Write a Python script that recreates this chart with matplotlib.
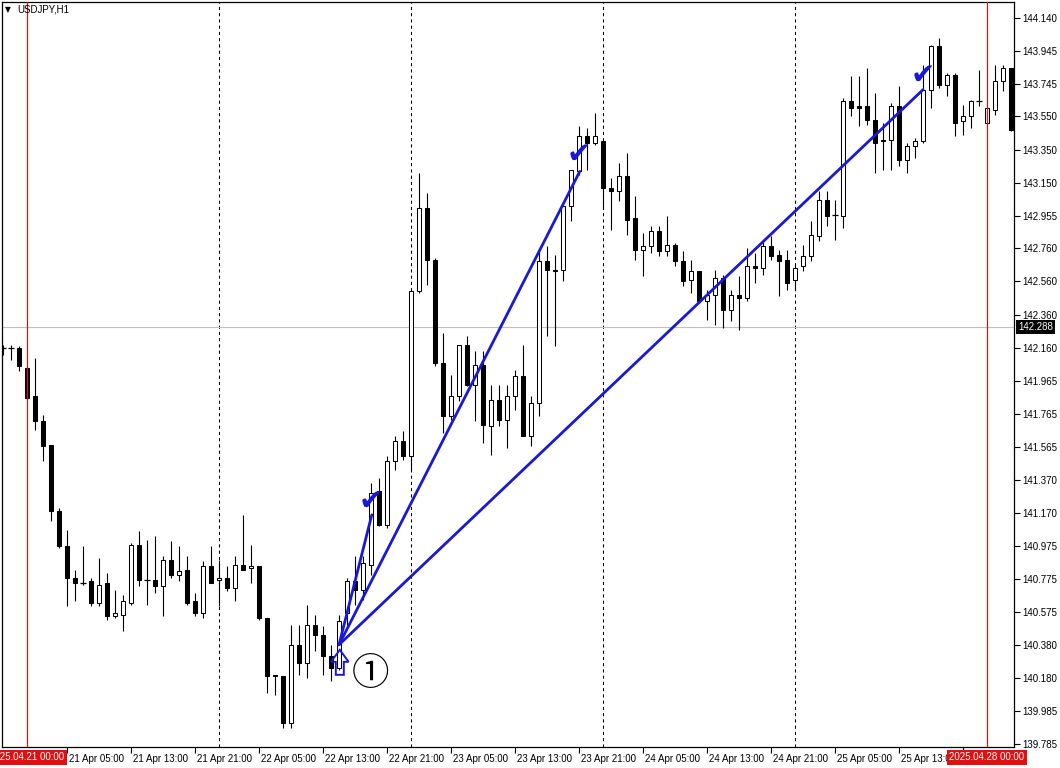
import numpy as np
import matplotlib.pyplot as plt
from matplotlib.patches import Polygon
from matplotlib.transforms import ScaledTranslation

## USDJPY H1 (bar 0 = 2025.04.21 00:00, one bar per hour)
bars = np.arange(-3, 124)

# open / high / low / close
opens = [142.16, 142.16, 142.16,
         142.04, 141.87, 141.72, 141.58, 141.18, 140.97, 140.78, 140.75, 140.76, 140.63, 140.75, 140.55,
         140.56, 140.63, 140.98, 140.77, 140.77, 140.73, 140.89, 140.80, 140.83, 140.64, 140.57, 140.85,
         140.77, 140.78, 140.72, 140.86, 140.84, 140.85, 140.54, 140.20, 140.19, 139.91, 140.38, 140.27,
         140.50, 140.44, 140.31, 140.24, 140.57, 140.76, 140.71, 140.86, 141.30, 141.10, 141.48, 141.60,
         141.51, 142.50, 143.00, 142.69, 142.07, 141.75, 141.87, 142.18, 141.94, 142.06, 141.69, 141.85,
         141.73, 141.87, 141.99, 141.63, 141.83, 142.68, 142.62, 142.63, 143.01, 143.22, 143.43, 143.39,
         143.40, 143.12, 143.10, 143.19, 142.94, 142.75, 142.77, 142.86, 142.74, 142.78, 142.68, 142.57,
         142.62, 142.44, 142.48, 142.58, 142.39, 142.48, 142.46, 142.65, 142.64, 142.77, 142.72, 142.69,
         142.57, 142.65, 142.71, 142.83, 143.05, 142.96, 142.95, 143.64, 143.61, 143.61, 143.53, 143.40,
         143.41, 143.61, 143.29, 143.37, 143.40, 143.71, 143.97, 143.74, 143.80, 143.52, 143.55, 143.64,
         143.51, 143.59, 143.76, 143.84]
highs = [142.18, 142.18, 142.17,
         142.05, 142.10, 141.76, 141.58, 141.20, 141.07, 140.83, 140.97, 140.78, 140.90, 140.81, 140.71,
         140.68, 140.99, 141.06, 141.01, 141.03, 140.91, 141.00, 140.97, 140.91, 140.69, 140.88, 140.97,
         140.89, 140.85, 140.91, 141.16, 140.98, 140.85, 140.54, 140.20, 140.19, 140.50, 140.50, 140.62,
         140.56, 140.49, 140.38, 140.56, 140.78, 140.91, 140.91, 141.35, 141.38, 141.51, 141.63, 141.66,
         142.50, 143.21, 143.09, 142.70, 142.25, 142.00, 142.18, 142.23, 142.14, 142.14, 141.94, 141.94,
         141.94, 142.03, 142.18, 141.87, 142.76, 142.77, 142.72, 143.01, 143.23, 143.49, 143.48, 143.57,
         143.40, 143.18, 143.27, 143.33, 143.07, 142.85, 142.89, 142.89, 142.95, 142.79, 142.74, 142.69,
         142.62, 142.51, 142.63, 142.60, 142.51, 142.59, 142.76, 142.73, 142.81, 142.83, 142.75, 142.75,
         142.66, 142.78, 142.92, 143.10, 143.10, 143.05, 143.66, 143.79, 143.79, 143.84, 143.69, 143.51,
         143.63, 143.73, 143.39, 143.42, 143.86, 143.98, 144.02, 143.81, 143.81, 143.62, 143.65, 143.83,
         143.61, 143.86, 143.86, 143.84]
lows = [142.12, 142.09, 142.02,
        141.85, 141.67, 141.48, 141.12, 140.96, 140.61, 140.64, 140.74, 140.61, 140.61, 140.53, 140.54,
        140.46, 140.62, 140.73, 140.62, 140.69, 140.55, 140.78, 140.76, 140.62, 140.55, 140.54, 140.75,
        140.61, 140.70, 140.64, 140.83, 140.75, 140.53, 140.09, 140.08, 139.88, 139.88, 140.20, 140.18,
        140.34, 140.20, 140.16, 140.23, 140.50, 140.62, 140.65, 140.80, 141.09, 141.08, 141.43, 141.49,
        141.43, 142.49, 142.54, 142.05, 141.65, 141.73, 141.84, 141.93, 141.72, 141.59, 141.52, 141.69,
        141.56, 141.79, 141.63, 141.57, 141.75, 142.23, 142.17, 142.56, 142.92, 143.20, 143.23, 143.38,
        143.00, 142.87, 143.04, 142.84, 142.69, 142.59, 142.73, 142.71, 142.71, 142.65, 142.53, 142.49,
        142.43, 142.33, 142.30, 142.28, 142.32, 142.27, 142.44, 142.55, 142.60, 142.69, 142.47, 142.51,
        142.51, 142.62, 142.68, 142.80, 142.89, 142.81, 142.88, 143.55, 143.49, 143.50, 143.21, 143.23,
        143.23, 143.25, 143.21, 143.30, 143.39, 143.60, 143.72, 143.67, 143.43, 143.44, 143.48, 143.61,
        143.50, 143.56, 143.70, 143.46]
closes = [142.16, 142.16, 142.05,
          141.86, 141.72, 141.57, 141.18, 140.97, 140.78, 140.75, 140.75, 140.63, 140.74, 140.55, 140.57,
          140.64, 140.98, 140.77, 140.77, 140.73, 140.89, 140.80, 140.82, 140.63, 140.57, 140.85, 140.75,
          140.78, 140.72, 140.86, 140.83, 140.85, 140.54, 140.19, 140.19, 139.91, 140.38, 140.27, 140.50,
          140.44, 140.31, 140.24, 140.52, 140.76, 140.71, 140.87, 141.29, 141.10, 141.48, 141.60, 141.51,
          142.50, 143.00, 142.69, 142.07, 141.75, 141.87, 142.18, 141.94, 142.06, 141.70, 141.85, 141.73,
          141.87, 141.99, 141.63, 141.83, 142.68, 142.63, 142.63, 143.01, 143.23, 143.43, 143.39, 143.43,
          143.12, 143.10, 143.19, 142.93, 142.75, 142.77, 142.86, 142.74, 142.78, 142.68, 142.56, 142.62,
          142.44, 142.48, 142.58, 142.39, 142.48, 142.46, 142.65, 142.64, 142.77, 142.71, 142.68, 142.55,
          142.64, 142.71, 142.84, 143.05, 142.95, 142.96, 143.64, 143.60, 143.60, 143.53, 143.39, 143.41,
          143.61, 143.29, 143.37, 143.40, 143.71, 143.97, 143.74, 143.80, 143.51, 143.55, 143.64, 143.64,
          143.60, 143.76, 143.84, 143.47]

day_starts = [24, 48, 72, 96]        # period separators (00:00)
vline_bars = [0, 120]                # red vertical lines
vline_labels = ['2025.04.21 00:00', '2025.04.28 00:00']
bid = 142.288

time_ticks = list(range(5, 118, 8))
time_labels = ['21 Apr 05:00', '21 Apr 13:00', '21 Apr 21:00', '22 Apr 05:00', '22 Apr 13:00',
               '22 Apr 21:00', '23 Apr 05:00', '23 Apr 13:00', '23 Apr 21:00', '24 Apr 05:00',
               '24 Apr 13:00', '24 Apr 21:00', '25 Apr 05:00', '25 Apr 13:00', '25 Apr 21:00']
price_ticks = [144.140, 143.945, 143.745, 143.550, 143.350, 143.150, 142.955, 142.760, 142.560,
               142.360, 142.160, 141.965, 141.765, 141.565, 141.370, 141.170, 140.975, 140.775,
               140.575, 140.380, 140.180, 139.985, 139.785]

# drawn objects: three trend lines from the marked bar, a check at each end
start_bar, start_price = 39.0, 140.38
end_bars = [43.1, 69.1, 112.0]
end_prices = [141.16, 143.22, 143.71]
check_bars = [43.0, 69.0, 112.0]
check_prices = [141.24, 143.32, 143.79]

BLUE = '#1818d8'
RED = '#e01010'

opens, highs, lows, closes = map(np.array, (opens, highs, lows, closes))

fig = plt.figure(figsize=(10.6, 7.68), dpi=100)
ax = fig.add_axes([2/1060, 21/768, 1012/1060, 745/768])
ax.set_xlim(-3.125, 123.375)
ax.set_ylim(139.767, 144.236)

# separators / bid line
for d in day_starts:
    ax.axvline(d, color='black', lw=0.75, ls=(0, (3, 3)), zorder=1)
ax.axhline(bid, color='#c0c0c0', lw=0.8, zorder=1)

# candles
ax.vlines(bars, lows, highs, color='black', lw=0.8, zorder=2)
up = closes > opens
down = closes < opens
flat = closes == opens
ax.bar(bars[up], (closes - opens)[up], bottom=opens[up], width=0.55,
       color='white', edgecolor='black', lw=0.75, zorder=3)
ax.bar(bars[down], (opens - closes)[down], bottom=closes[down], width=0.55,
       color='black', edgecolor='black', lw=0.75, zorder=3)
ax.hlines(opens[flat], bars[flat] - 0.33, bars[flat] + 0.33, color='black', lw=0.9, zorder=3)

# red vertical lines with their date boxes
for b, lab in zip(vline_bars, vline_labels):
    ax.axvline(b, color='#c81818', lw=0.9, zorder=4)
    ax.text(b, -0.014, lab, transform=ax.get_xaxis_transform(), ha='center', va='center',
            fontsize=7, family='Liberation Sans', color='white', clip_on=False, zorder=6,
            bbox=dict(boxstyle='square,pad=0.22', fc=RED, ec='none'))

# bid price box on the scale
ax.text(1.004, bid, f'{bid:.3f}', transform=ax.get_yaxis_transform(), ha='left', va='center',
        fontsize=7, family='Liberation Sans', color='white', clip_on=False, zorder=6,
        bbox=dict(boxstyle='square,pad=0.2', fc='black', ec='none'))

# trend lines and checks
for eb, ep in zip(end_bars, end_prices):
    ax.plot([start_bar, eb], [start_price, ep], color=BLUE, lw=2, solid_capstyle='round', zorder=5)
for cb, cp in zip(check_bars, check_prices):
    ax.text(cb, cp, '\u2714', color=BLUE, fontsize=21, ha='center', va='center',
            family='DejaVu Sans', zorder=6)

# hollow up-arrow under the marked bar
tip = start_price - 0.03
arrow = [(start_bar + 0.1, tip), (start_bar + 1.2, tip - 0.072), (start_bar + 0.6, tip - 0.072),
         (start_bar + 0.6, tip - 0.15), (start_bar - 0.4, tip - 0.15), (start_bar - 0.4, tip - 0.072),
         (start_bar - 1.0, tip - 0.072)]
ax.add_patch(Polygon(arrow, closed=True, fill=False, ec=BLUE, lw=1.4, zorder=6))
ax.text(start_bar + 3.96, start_price - 0.181, '\u2460', fontsize=27, ha='center', va='center',
        family=['Noto Sans CJK JP', 'DejaVu Sans'], color='black', zorder=6)

# axes / ticks
for s in ax.spines.values():
    s.set_linewidth(0.9)
ax.yaxis.tick_right()
ax.set_yticks(price_ticks)
ax.set_yticklabels([f'{p:.3f}' for p in price_ticks], fontsize=7, family='Liberation Sans')
ax.tick_params(axis='y', length=4, width=0.8, pad=2)
ax.set_xticks(time_ticks)
ax.set_xticklabels(time_labels, fontsize=7, family='Liberation Sans', ha='left')
ax.tick_params(axis='x', length=4, width=0.8, pad=1)
shift = ScaledTranslation(2/100, 0, fig.dpi_scale_trans)
for lab in ax.get_xticklabels():
    lab.set_transform(lab.get_transform() + shift)

fig.text(5/1060, 1 - 10/768, '\u25bc', fontsize=5.5, va='center', ha='left', family='DejaVu Sans')
fig.text(17/1060, 1 - 10/768, 'USDJPY,H1', fontsize=7, va='center', ha='left',
         family='Liberation Sans')

fig.savefig('out.png', dpi=100)
